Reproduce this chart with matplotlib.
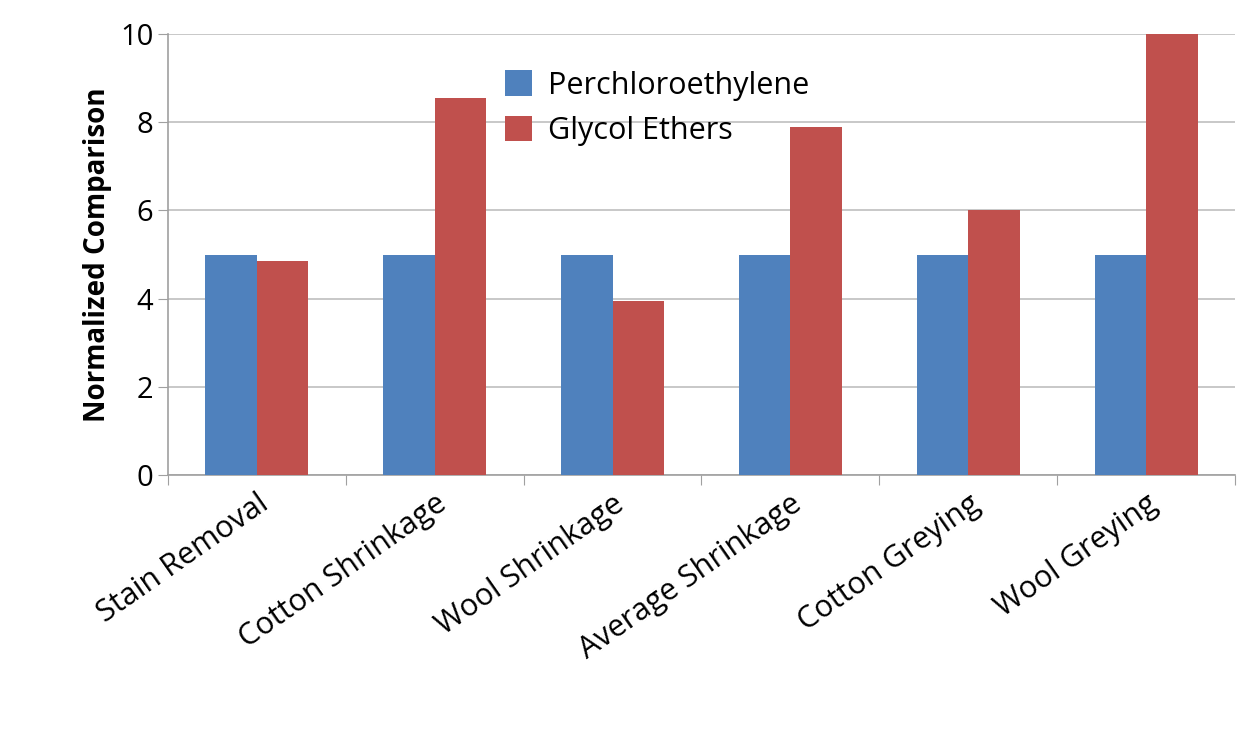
import matplotlib
matplotlib.use("Agg")
import matplotlib.pyplot as plt
import numpy as np

categories = ["Stain Removal", "Cotton Shrinkage", "Wool Shrinkage", "Average Shrinkage", "Cotton Greying", "Wool Greying"]
perc = [5, 5, 5, 5, 5, 5]
glycol = [4.85, 8.55, 3.95, 7.9, 6.0, 10.0]

plt.rcParams['font.family'] = ['Open Sans', 'DejaVu Sans']
fig = plt.figure(figsize=(12.59, 7.39), dpi=100)
ax = fig.add_axes([168/1259, 1-475/739, (1235-168)/1259, (475-34)/739])
x = np.arange(len(categories))
w = 0.29
ax.bar(x - w/2, perc, w, color="#4F81BD", label="Perchloroethylene", zorder=3)
ax.bar(x + w/2, glycol, w, color="#C0504D", label="Glycol Ethers", zorder=3)
ax.set_xlim(-0.5, len(categories) - 0.5)
ax.set_ylim(0, 10)
ax.set_yticks(range(0, 11, 2))
ax.yaxis.grid(True, color="#BFBFBF", linewidth=1.2, zorder=0)
ax.set_xticks(np.arange(-0.5, len(categories), 1))
ax.set_xticklabels([])
ax.set_xticks(x, minor=True)
ax.set_xticklabels(categories, minor=True, rotation=35, ha="right", rotation_mode="anchor", fontsize=22)
ax.tick_params(axis="x", which="minor", length=0, pad=10)
ax.tick_params(axis="x", which="major", length=7, color="#A0A0A0")
ax.tick_params(axis="y", labelsize=21, length=7, color="#A0A0A0")
for s in ["top", "right"]:
    ax.spines[s].set_visible(False)
for s in ["left", "bottom"]:
    ax.spines[s].set_color("#A0A0A0")
    ax.spines[s].set_linewidth(1.2)
ax.set_ylabel("Normalized Comparison", fontsize=20, fontweight="bold", labelpad=6)
ax.legend(loc="upper left", bbox_to_anchor=(0.29, 0.98), frameon=False, fontsize=22, handlelength=0.9, handleheight=0.9, labelspacing=0.5, handletextpad=0.5)
fig.savefig("out.png", dpi=100)
